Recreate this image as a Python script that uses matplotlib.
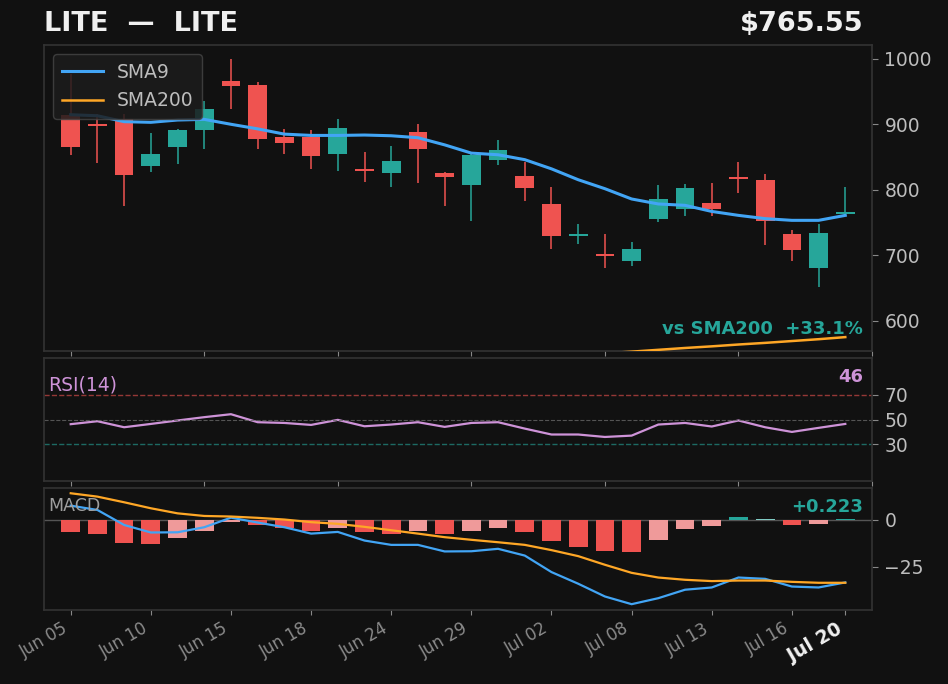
import matplotlib
matplotlib.use("Agg")
import matplotlib.pyplot as plt
import numpy as np

# ---------------- data ----------------
dates = ["Jun 05", "Jun 08", "Jun 09", "Jun 10", "Jun 11", "Jun 12", "Jun 15", "Jun 16",
         "Jun 17", "Jun 18", "Jun 22", "Jun 23", "Jun 24", "Jun 25", "Jun 26", "Jun 29",
         "Jun 30", "Jul 01", "Jul 02", "Jul 06", "Jul 07", "Jul 08", "Jul 09", "Jul 10",
         "Jul 13", "Jul 14", "Jul 15", "Jul 16", "Jul 17", "Jul 20"]

opens  = [914, 900, 908, 836, 865, 891, 966, 960, 881, 881, 854, 832, 826, 888, 825,
          808, 846, 821, 779, 729, 701, 691, 756, 771, 780, 820, 815, 733, 680, 764.8]
highs  = [976, 916, 916, 886, 893, 936, 1000, 964, 893, 891, 908, 858, 867, 901, 827,
          854, 876, 843, 805, 748, 733, 721, 807, 809, 811, 842, 824, 739, 748, 804]
lows   = [853, 841, 776, 827, 840, 863, 924, 863, 854, 831, 829, 812, 804, 810, 775,
          753, 838, 783, 710, 717, 680, 683, 751, 760, 760, 795, 716, 692, 651, 760]
closes = [866, 897, 822, 855, 892, 924, 959, 877, 872, 852, 895, 829, 844, 863, 819,
          853.5, 860, 802, 730, 733, 700, 709, 786, 803, 770, 817, 753, 708, 734.5, 765.55]

sma9   = [914.6, 913, 904, 903, 906.5, 907.5, 900, 893, 885, 883, 883, 883.6, 882.5, 879.5,
          868.6, 856, 853.5, 846, 832, 815.4, 801.7, 786, 778.4, 776.3, 767, 761, 756,
          753.4, 753.4, 761]
sma200 = [497.5, 500.2, 502.8, 505.5, 508.1, 510.9, 513.4, 516.2, 518.7, 521.5, 524.0,
          526.8, 529.3, 532.1, 534.6, 537.4, 539.9, 542.7, 545.2, 548.0, 550.5, 553.0,
          555.8, 558.6, 561.1, 563.9, 566.4, 569.2, 572.0, 575.2]

rsi = [46.2, 48.6, 43.7, 46.4, 49.2, 51.9, 54.3, 47.8, 47.2, 45.6, 49.7, 44.5, 45.9, 47.8,
       44.0, 47.2, 47.8, 42.6, 37.8, 37.8, 35.8, 36.9, 45.9, 47.2, 44.3, 49.2, 43.7, 39.9,
       43.2, 46.4]

macd   = [7.6, 5.3, -2.7, -6.7, -6.6, -3.9, 1.2, -1.4, -3.9, -7.3, -6.4, -11.0, -13.3,
          -13.3, -16.8, -16.7, -15.4, -19.0, -27.8, -34.0, -40.8, -44.9, -41.7, -37.2,
          -36.0, -30.7, -31.4, -35.5, -36.0, -33.3]
signal = [14.2, 12.4, 9.4, 6.2, 3.5, 2.1, 1.8, 1.1, 0.2, -1.2, -2.1, -3.7, -5.5, -7.3,
          -9.2, -10.6, -11.9, -13.3, -16.1, -19.3, -23.9, -28.2, -30.7, -31.9, -32.6,
          -32.3, -32.3, -33.0, -33.5, -33.5]
hist   = [-6.7, -7.3, -12.1, -12.6, -9.9, -5.7, -0.9, -2.5, -4.3, -5.7, -4.1, -6.7, -7.3,
          -5.7, -7.3, -5.7, -4.1, -6.2, -11.5, -14.2, -16.8, -16.9, -10.5, -5.1, -3.0,
          1.6, 0.7, -2.5, -2.4, 0.223]

ticker = "LITE"
last_price = 765.55
sma200_pct = 33.1
rsi_last = 46
hist_last = 0.223

main_ticks = [600, 700, 800, 900, 1000]
rsi_ticks = [30, 50, 70]
macd_ticks = [0, -25]
bottom_tick_idx = [0, 3, 6, 9, 12, 15, 18, 21, 24, 27, 29]

# ---------------- style ----------------
BG = "#111111"
SPINE = "#333333"
TXT = "#bdbdbd"
GREEN = "#26a69a"
RED = "#ef5350"
BLUE = "#42a5f5"
ORANGE = "#ffa726"
PURPLE = "#ce93d8"

fig = plt.figure(figsize=(9.48, 6.84), dpi=100, facecolor=BG)
W, H = 948, 684
def pos(l, t, r, b):
    return [l / W, 1 - b / H, (r - l) / W, (b - t) / H]

ax = fig.add_axes(pos(44, 45, 872, 351))
axr = fig.add_axes(pos(44, 358, 872, 481))
axm = fig.add_axes(pos(44, 488, 872, 610))

x = np.arange(len(dates))
for a in (ax, axr, axm):
    a.set_facecolor(BG)
    for s in a.spines.values():
        s.set_color(SPINE)
        s.set_linewidth(1.2)
    a.yaxis.tick_right()
    a.tick_params(axis="y", colors="#888888", labelcolor=TXT, labelsize=13.5, length=4, pad=5)
    a.tick_params(axis="x", colors="#888888", length=3.5)
    a.set_xlim(-1, len(dates))

# candles
for i in x:
    o, h, l, c = opens[i], highs[i], lows[i], closes[i]
    col = GREEN if c >= o else RED
    ax.vlines(i, l, h, color=col, linewidth=1.1, zorder=2)
    bottom = min(o, c)
    height = max(abs(c - o), 3.0)
    if abs(c - o) < 3.0:
        bottom = (o + c) / 2 - 1.5
    ax.bar(i, height, bottom=bottom, width=0.7, color=col, zorder=3, linewidth=0)

ax.plot(x, sma9, color=BLUE, linewidth=2.2, label="SMA9", zorder=4)
ax.plot(x, sma200, color=ORANGE, linewidth=1.8, label="SMA200", zorder=4)
ax.set_ylim(554, 1021)
ax.set_yticks(main_ticks)
ax.set_xticks(np.arange(0, 31, 5))
ax.tick_params(axis="x", labelbottom=False)
leg = ax.legend(loc="upper left", fontsize=13.5, facecolor="#1c1c1c", edgecolor="#444444",
                framealpha=0.85, labelcolor=TXT, borderpad=0.45, handlelength=2.2,
                handletextpad=0.75, borderaxespad=0.5)
ax.text(0.989, 0.072, f"vs SMA200  +{sma200_pct:.1f}%", transform=ax.transAxes,
        ha="right", va="center", color=GREEN, fontsize=13, fontweight="bold")

# RSI
axr.plot(x, rsi, color=PURPLE, linewidth=1.6)
axr.axhline(70, color=RED, linestyle="--", linewidth=1, alpha=0.6)
axr.axhline(50, color="#666666", linestyle="--", linewidth=0.8, alpha=0.8)
axr.axhline(30, color=GREEN, linestyle="--", linewidth=1, alpha=0.6)
axr.set_ylim(0, 100)
axr.set_yticks(rsi_ticks)
axr.set_xticks(np.arange(0, 31, 5))
axr.tick_params(axis="x", labelbottom=False)
axr.text(0.005, 0.78, "RSI(14)", transform=axr.transAxes, ha="left", va="center",
         color=PURPLE, fontsize=13.5)
axr.text(0.989, 0.848, f"{rsi_last}", transform=axr.transAxes, ha="right", va="center",
         color=PURPLE, fontsize=13, fontweight="bold")

# MACD
cols = []
for i, hv in enumerate(hist):
    prev = hist[i - 1] if i > 0 else None
    if hv >= 0:
        cols.append(GREEN if (prev is None or hv >= prev) else "#80cbc4")
    else:
        cols.append(RED if (prev is None or hv <= prev) else "#ef9a9a")
axm.bar(x, hist, width=0.7, color=cols, linewidth=0, zorder=2)
axm.axhline(0, color="#555555", linewidth=1, zorder=1)
axm.plot(x, macd, color=BLUE, linewidth=1.6, zorder=3)
axm.plot(x, signal, color=ORANGE, linewidth=1.6, zorder=3)
axm.set_ylim(-48, 17)
axm.set_yticks(macd_ticks)
axm.set_yticklabels(["0", "\u221225"])
axm.set_xticks(bottom_tick_idx)
labels = axm.set_xticklabels([dates[i] for i in bottom_tick_idx], rotation=30, ha="right",
                             fontsize=12, color="#8a8a8a")
labels[-1].set_color("#f0f0f0")
labels[-1].set_fontweight("bold")
labels[-1].set_fontsize(13.5)
axm.text(0.005, 0.855, "MACD", transform=axm.transAxes, ha="left", va="center",
         color="#9e9e9e", fontsize=12.5)
axm.text(0.989, 0.847, f"+{hist_last:.3f}", transform=axm.transAxes, ha="right",
         va="center", color=GREEN, fontsize=13, fontweight="bold")

# title
fig.text(44 / W, 1 - 24 / H, f"{ticker}  \u2014  {ticker}", ha="left", va="center",
         color="#f0f0f0", fontsize=19.5, fontweight="bold")
fig.text(863 / W, 1 - 24 / H, f"${last_price:.2f}", ha="right", va="center",
         color="#f0f0f0", fontsize=19.5, fontweight="bold")

fig.savefig("out.png", dpi=100, facecolor=BG)
